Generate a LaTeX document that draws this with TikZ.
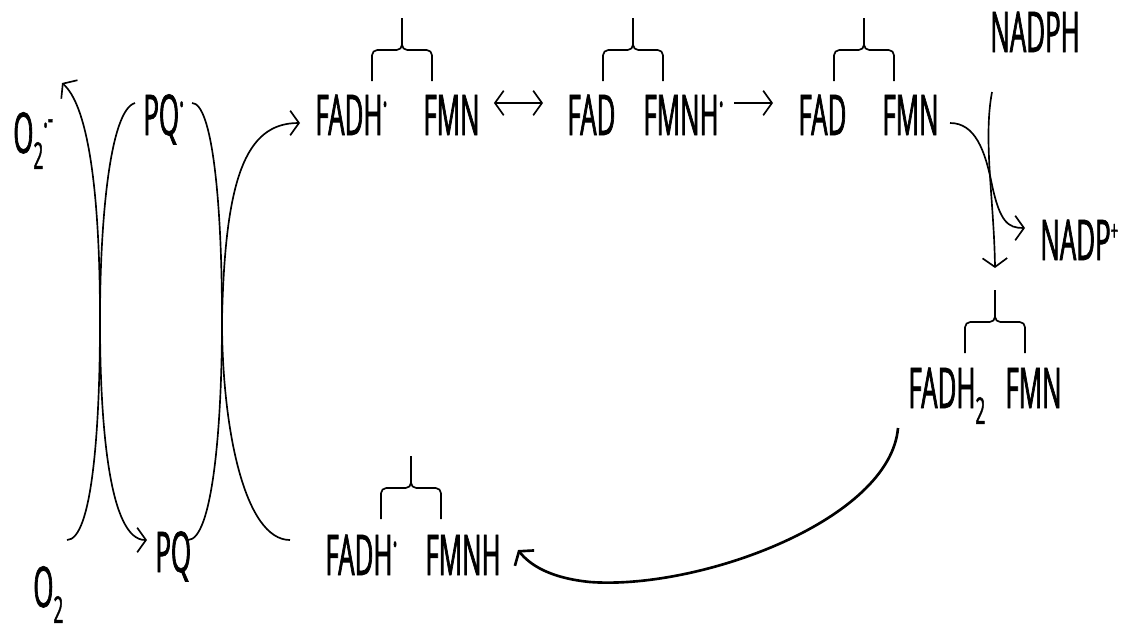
\documentclass[tikz,border=0pt]{standalone}
\usepackage{fontspec}
\setmainfont[FakeStretch=0.46,FakeBold=1.2]{Open Sans}
\usepackage{tikz}
\usetikzlibrary{arrows.meta,positioning,calc}

\newcommand{\radot}{\raisebox{9pt}{\fontsize{24}{24}\selectfont ·}}
\newcommand{\anrad}{\raisebox{8pt}{\fontsize{22}{22}\selectfont ·}\raisebox{13pt}{\fontsize{20}{20}\selectfont -}}
\newcommand{\lo}[1]{\raisebox{-9pt}{\fontsize{21}{21}\selectfont #1}}
\newcommand{\cation}{\raisebox{11pt}{\fontsize{16}{16}\selectfont +}}
\newcommand{\pairbrace}[1]{%
    \draw[bracket] ($(#1)+(-30,31)$) |- (#1) -- ++(0,-32);
    \draw[bracket] ($(#1)+(30,31)$) |- (#1) -- ++(0,-32);}

\begin{document}
\begin{tikzpicture}[
    x=0.02cm, y=-0.02cm,
    chem/.style={anchor=base west, inner sep=0pt, font=\fontsize{32}{38}\selectfont},
    react/.style={line width=0.95pt, -{Straight Barb[length=5pt,width=14pt]}},
    flow/.style={line width=0.95pt},
    bracket/.style={line width=0.95pt, rounded corners=3pt}
]
    \useasboundingbox (0,0) rectangle (1131,633);

    % species
    \node[chem] (sox) at (13,153) {O\lo{2}\anrad};
    \node[chem] (ox) at (33,607) {O\lo{2}};
    \node[chem] (pqr) at (143,135) {PQ\radot};
    \node[chem] (pq) at (155,572) {PQ};

    \node[chem] (fadh1) at (315,135) {FADH\radot};
    \node[chem] (fmn1) at (423,135) {FMN};
    \node[chem] (fad2) at (567,135) {FAD};
    \node[chem] (fmnh2) at (643,135) {FMNH\radot};
    \node[chem] (fad3) at (798,135) {FAD};
    \node[chem] (fmn3) at (882,135) {FMN};
    \node[chem] (nadph) at (990,52) {NADPH};
    \node[chem] (nadp) at (1040,260) {NADP\cation};
    \node[chem] (fadh4) at (908,408) {FADH\lo{2}};
    \node[chem] (fmn4) at (1005,408) {FMN};
    \node[chem] (fadh5) at (325,575) {FADH\radot};
    \node[chem] (fmnh5) at (425,575) {FMNH};

    % brackets over each pair
    \coordinate (br1) at (402,50);
    \coordinate (br2) at (633,50);
    \coordinate (br3) at (864,50);
    \coordinate (br4) at (995,322);
    \coordinate (br5) at (411,488);
    \foreach \b in {br1,br2,br3,br4,br5} {\pairbrace{\b}}

    % ends of the curved arrows
    \coordinate (ox-out) at (67,540);
    \coordinate (sox-in) at (62,83);
    \coordinate (pqr-out) at (135,103);
    \coordinate (pq-in) at (147,540);
    \coordinate (pq-out) at (188,540);
    \coordinate (pqr-in) at (192,103);
    \coordinate (fmnh5-out) at (290,540);
    \coordinate (fadh1-in) at (300,123);
    \coordinate (fadh4-out) at (898,428);
    \coordinate (fmnh5-in) at (518,550);
    \coordinate (fmn3-out) at (950,123);
    \coordinate (nadp-in) at (1025,228);
    \coordinate (nadph-out) at (992,92);
    \coordinate (br4-in) at (995,268);

    \draw[react, {Straight Barb[length=5pt,width=14pt]}-{Straight Barb[length=5pt,width=14pt]}]
        ($(fmn1.base east)+(14,-32)$) -- ($(fad2.base west)+(-24,-32)$);
    \draw[react] ($(fmnh2.base east)+(10,-32)$) -- ($(fad3.base west)+(-25,-32)$);

    \draw[react] (ox-out) .. controls (92,540) and (100,430) .. (100,320)
        .. controls (100,180) and (86,104) .. (sox-in);
    \draw[react] (pqr-out) .. controls (110,110) and (100,220) .. (100,320)
        .. controls (100,430) and (110,540) .. (pq-in);
    \draw[flow] (pq-out) .. controls (212,540) and (222,430) .. (222,320)
        .. controls (222,200) and (212,103) .. (pqr-in);
    \draw[react] (fmnh5-out) .. controls (245,540) and (222,430) .. (222,320)
        .. controls (225,180) and (245,123) .. (fadh1-in);

    \draw[react] (fmn3-out) .. controls (975,123) and (985,150) .. (992,185)
        .. controls (1000,222) and (1008,228) .. (nadp-in);
    \draw[react] (nadph-out) .. controls (983,140) and (994,200) .. (br4-in);

    \draw[react, line width=1.5pt] (fadh4-out) .. controls (890,520) and (700,590) .. (590,582)
        .. controls (550,578) and (530,565) .. (fmnh5-in);
\end{tikzpicture}
\end{document}
